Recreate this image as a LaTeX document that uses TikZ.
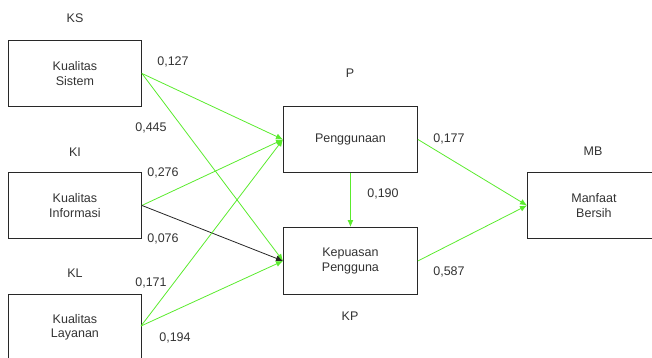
\documentclass[tikz,border=0pt]{standalone}
\usepackage{fontspec}
\setmainfont{Liberation Sans}
\usetikzlibrary{arrows.meta}
\definecolor{pathgreen}{RGB}{90,235,45}
\definecolor{boxline}{RGB}{40,40,40}
\begin{document}
\begin{tikzpicture}[x=1pt,y=-1pt,
  var/.style={draw=boxline,line width=0.9pt,minimum width=133pt,minimum height=66pt,inner sep=0pt,align=center,font=\fontsize{12.5}{14.5}\selectfont,anchor=north west,text=black!80},
  tag/.style={font=\fontsize{12.5}{14.5}\selectfont,text=black!80},
  coef/.style={font=\fontsize{12.5}{14.5}\selectfont,text=black!80},
  gpath/.style={draw=pathgreen,line width=0.8pt,-{Latex[length=7pt,width=6pt]}},
  bpath/.style={draw=black!85,line width=0.8pt,-{Latex[length=7pt,width=6pt]}}]
\useasboundingbox (0,0) rectangle (652,358);
\begin{scope}
\clip (0,0) rectangle (652,358);
\node[var] (ks) at (8,40) {Kualitas\\Sistem};
\node[var] (ki) at (8,172) {Kualitas\\Informasi};
\node[var] (kl) at (8,294) {Kualitas\\Layanan};
\node[var,minimum width=134pt] (p) at (283,106) {Penggunaan};
\node[var,minimum width=134pt,minimum height=67pt] (kp) at (283,227) {Kepuasan\\Pengguna};
\node[var] (mb) at (527,172) {Manfaat\\Bersih};
\end{scope}
\node[tag] (tks) at (75,18) {KS};
\node[tag] (tki) at (75,152) {KI};
\node[tag] (tkl) at (75,273) {KL};
\node[tag] (tp) at (350,73) {P};
\node[tag] (tkp) at (350,316) {KP};
\node[tag] (tmb) at (593,151) {MB};
\coordinate (klout) at (141,326);
\draw[gpath] (ks.east) -- (p.west);
\draw[gpath] (ks.east) -- (kp.west);
\draw[gpath] (ki.east) -- (p.west);
\draw[bpath] (ki.east) -- (kp.west);
\draw[gpath] (klout) -- (p.west);
\draw[gpath] (klout) -- (kp.west);
\draw[gpath] (p.south) -- (kp.north);
\draw[gpath] (p.east) -- (mb.west);
\draw[gpath] (kp.east) -- (mb.west);
\node[coef] (c1) at (173,62) {0,127};
\node[coef] (c2) at (151,128) {0,445};
\node[coef] (c3) at (163,173) {0,276};
\node[coef] (c4) at (163,239) {0,076};
\node[coef] (c5) at (151,283) {0,171};
\node[coef] (c6) at (175,338) {0,194};
\node[coef] (c7) at (449,139) {0,177};
\node[coef] (c8) at (383,194) {0,190};
\node[coef] (c9) at (449,272) {0,587};
\end{tikzpicture}
\end{document}
